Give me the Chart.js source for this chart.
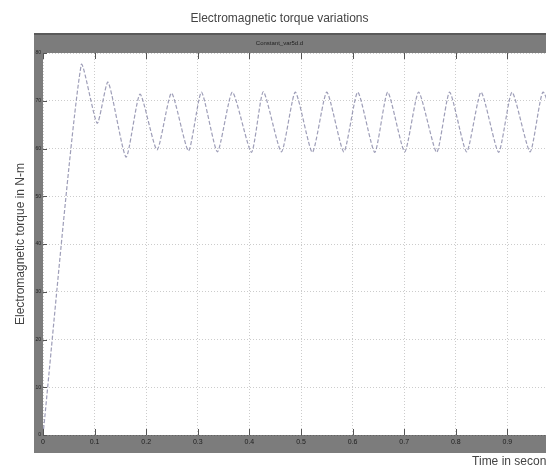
<!DOCTYPE html>
<html>
<head>
<meta charset="utf-8">
<script src="https://cdn.jsdelivr.net/npm/chart.js@4/dist/chart.umd.min.js"></script>
<style>
	body { margin: 0; overflow: hidden; background: #fff; }
	canvas { display: block; }
</style>
</head>
<body>
<canvas id="torque-canvas" width="610" height="475"></canvas>
<script>
// data
const timeSec = [0, 0.074, 0.105, 0.126, 0.161, 0.188, 0.221, 0.249, 0.282, 0.307, 0.338, 0.367, 0.404, 0.427, 0.462, 0.489, 0.522, 0.55, 0.583, 0.61, 0.643, 0.668, 0.701, 0.728, 0.763, 0.788, 0.821, 0.849, 0.883, 0.909, 0.944, 0.969, 1.0]
const torqueNm = [0, 77.5, 65.3, 73.9, 58.2, 71.4, 59.7, 71.6, 59.5, 71.8, 59.3, 71.8, 59.2, 71.9, 59.3, 71.8, 59.2, 71.8, 59.3, 71.8, 59.2, 71.8, 59.3, 71.8, 59.2, 71.8, 59.3, 71.8, 59.2, 71.8, 59.3, 71.8, 62.0]
const xTicks = [0, 0.1, 0.2, 0.3, 0.4, 0.5, 0.6, 0.7, 0.8, 0.9, 1.0]
const yTicks = [0, 10, 20, 30, 40, 50, 60, 70, 80]

const canvas = document.querySelector("#torque-canvas")

// gray scope frame around the plot
const scopeFrame = {
	id: "scopeFrame",
	beforeDraw(chart) {
		const { ctx, chartArea: a } = chart
		ctx.save()
		ctx.fillStyle = "#fff"
		ctx.fillRect(0, 0, chart.width, chart.height)
		ctx.fillStyle = "#7c7c7c"
		ctx.fillRect(a.left - 9, a.top - 20, a.right - a.left + 18, a.bottom - a.top + 38)
		ctx.fillStyle = "#5a5a5a"
		ctx.fillRect(a.left - 9, a.top - 20, a.right - a.left + 18, 2)
		ctx.fillStyle = "#fff"
		ctx.fillRect(a.left, a.top, a.right - a.left, a.bottom - a.top)
		ctx.restore()
	},
	// small inner tick marks like the scope
	afterDatasetsDraw(chart) {
		const { ctx, chartArea: a, scales } = chart
		ctx.save()
		ctx.strokeStyle = "#555"
		ctx.lineWidth = 1
		ctx.beginPath()
		xTicks.forEach(v => {
			const px = Math.round(scales.x.getPixelForValue(v)) + 0.5
			ctx.moveTo(px, a.bottom)
			ctx.lineTo(px, a.bottom - 6)
			ctx.moveTo(px, a.top)
			ctx.lineTo(px, a.top + 6)
		})
		yTicks.forEach(v => {
			const py = Math.round(scales.y.getPixelForValue(v)) + 0.5
			ctx.moveTo(a.left, py)
			ctx.lineTo(a.left + 4, py)
		})
		ctx.stroke()
		ctx.restore()
	},
}

Chart.defaults.font.family = "'Liberation Sans', Arial, sans-serif"
Chart.defaults.color = "#444"

const config = {
	type: "line",
	data: {
		datasets: [
			{
				label: "Torque",
				data: timeSec.map((t, i) => ({ x: t, y: torqueNm[i] })),
				borderColor: "rgba(125,125,160,0.75)",
				borderWidth: 1.2,
				borderDash: [4, 2],
				pointRadius: 0,
				tension: 0.2,
			},
		],
	},
	options: {
		responsive: false,
		animation: false,
		layout: { padding: { left: 0, right: 51, top: 0, bottom: 0 } },
		plugins: {
			legend: { display: false },
			tooltip: { enabled: false },
			title: {
				display: true,
				text: "Electromagnetic torque variations",
				color: "#444",
				font: { size: 12, weight: "normal" },
				padding: { top: 11, bottom: 6 },
			},
			subtitle: {
				display: true,
				text: "Constant_var5d.d",
				color: "#222",
				font: { size: 6 },
				padding: { top: 8, bottom: 6.4 },
			},
		},
		scales: {
			x: {
				type: "linear",
				min: 0,
				max: 1,
				afterFit: s => { s.height = 40 },
				afterBuildTicks: s => { s.ticks = xTicks.map(v => ({ value: v })) },
				ticks: {
					font: { size: 7 },
					color: "#222",
					padding: 3,
					maxRotation: 0,
					callback: v => (v === 0 ? "0" : v.toFixed(1)),
				},
				grid: { color: "rgba(0,0,0,0.2)", drawTicks: false },
				border: { display: false, dash: [1, 2] },
				title: {
					display: true,
					text: "Time in seconds",
					align: "end",
					color: "#444",
					font: { size: 12 },
					padding: { top: 0, bottom: 6 },
				},
			},
			y: {
				min: 0,
				max: 80,
				afterFit: s => { s.width = 43 },
				afterBuildTicks: s => { s.ticks = yTicks.map(v => ({ value: v })) },
				ticks: { font: { size: 5 }, color: "#222", padding: 2 },
				grid: { color: "rgba(0,0,0,0.2)", drawTicks: false },
				border: { display: false, dash: [1, 2] },
				title: {
					display: true,
					text: "Electromagnetic torque in N-m",
					color: "#444",
					font: { size: 12 },
					padding: { top: 13, bottom: 0 },
				},
			},
		},
	},
	plugins: [scopeFrame],
}

new Chart(canvas, config)
</script>
</body>
</html>
